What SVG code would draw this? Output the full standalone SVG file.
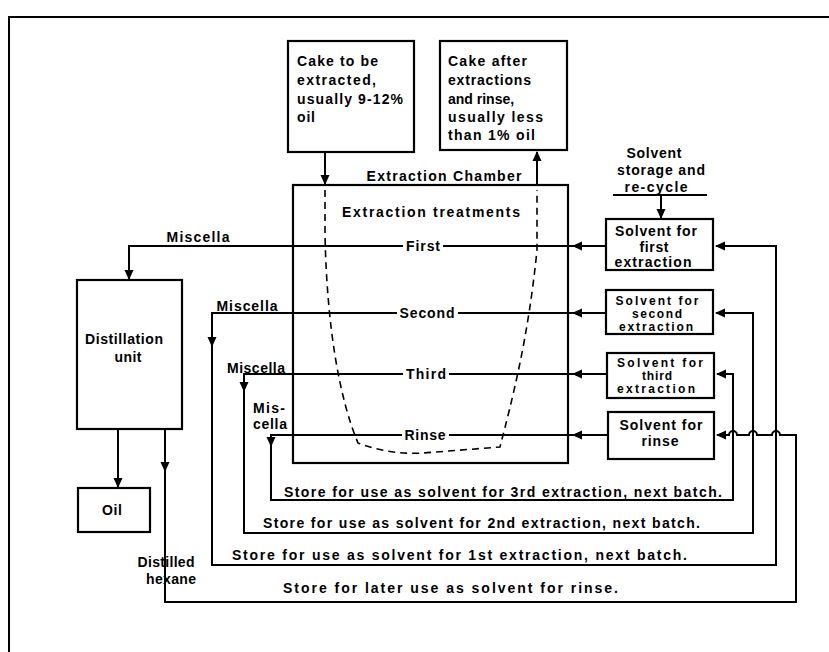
<svg xmlns="http://www.w3.org/2000/svg" width="829" height="652" viewBox="0 0 829 652">
<style>
.ln{fill:none;stroke:#000;stroke-width:2}
.bx{fill:#fff;stroke:#000;stroke-width:2.2}
.t{font-family:"Liberation Sans",Arial,sans-serif;font-size:14px;font-weight:bold;fill:#000}
.s{font-size:12px}
.m{text-anchor:middle}
.dash{fill:none;stroke:#000;stroke-width:1.6;stroke-dasharray:7,5}
</style>
<defs>
<path id="ah" d="M0,0 L-10,-4.5 L-10,4.5 Z" fill="#000"/>
</defs>
<rect width="829" height="652" fill="#fff"/>
<path class="ln" d="M9,652 V17 H829"/>

<g id="cake-in">
<rect class="bx" x="288" y="41" width="126" height="111"/>
<text class="t" x="297" y="66" textLength="81" lengthAdjust="spacing">Cake to be</text>
<text class="t" x="297" y="85" textLength="79" lengthAdjust="spacing">extracted,</text>
<text class="t" x="297" y="104" textLength="106" lengthAdjust="spacing">usually 9-12%</text>
<text class="t" x="297" y="122" textLength="18" lengthAdjust="spacing">oil</text>
</g>

<g id="cake-out">
<rect class="bx" x="440" y="41" width="127" height="109"/>
<text class="t" x="448" y="66" textLength="79" lengthAdjust="spacing">Cake after</text>
<text class="t" x="448" y="85" textLength="83" lengthAdjust="spacing">extractions</text>
<text class="t" x="448" y="104">and rinse,</text>
<text class="t" x="448" y="122" textLength="95" lengthAdjust="spacing">usually less</text>
<text class="t" x="448" y="140" textLength="87" lengthAdjust="spacing">than 1% oil</text>
</g>

<g id="chamber">
<rect class="bx" x="293" y="185" width="275" height="278"/>
<text class="t m" x="444" y="181" textLength="155" lengthAdjust="spacing">Extraction Chamber</text>
<text class="t m" x="431" y="217" textLength="178" lengthAdjust="spacing">Extraction treatments</text>
<path class="dash" d="M325,190 L325,235 C327,330 340,400 358,443 Q390,455 423,453 L500,447 C512,400 528,340 537,250 L537,190"/>
</g>

<g id="storage">
<text class="t m" x="654" y="158" textLength="55" lengthAdjust="spacing">Solvent</text>
<text class="t m" x="661" y="175" textLength="88" lengthAdjust="spacing">storage and</text>
<text class="t m" x="656" y="192" textLength="63" lengthAdjust="spacing">re-cycle</text>
<path class="ln" d="M613,195 H707"/>
</g>

<g id="solvent-first">
<rect class="bx" x="606" y="219" width="107" height="51"/>
<text class="t m" x="656" y="236" textLength="82" lengthAdjust="spacing">Solvent for</text>
<text class="t m" x="654" y="252" textLength="29" lengthAdjust="spacing">first</text>
<text class="t m" x="653" y="267" textLength="77" lengthAdjust="spacing">extraction</text>
</g>

<g id="solvent-second">
<rect class="bx" x="606" y="290" width="107" height="44"/>
<text class="t s m" x="657" y="305" textLength="83" lengthAdjust="spacing">Solvent for</text>
<text class="t s m" x="657" y="318" textLength="50" lengthAdjust="spacing">second</text>
<text class="t s m" x="656" y="331" textLength="74" lengthAdjust="spacing">extraction</text>
</g>

<g id="solvent-third">
<rect class="bx" x="607" y="353" width="107" height="45"/>
<text class="t s m" x="660" y="367" textLength="86" lengthAdjust="spacing">Solvent for</text>
<text class="t s m" x="657" y="380" textLength="30" lengthAdjust="spacing">third</text>
<text class="t s m" x="656" y="393" textLength="78" lengthAdjust="spacing">extraction</text>
</g>

<g id="solvent-rinse">
<rect class="bx" x="608" y="412" width="106" height="47"/>
<text class="t m" x="661" y="430" textLength="83" lengthAdjust="spacing">Solvent for</text>
<text class="t m" x="660" y="446" textLength="37" lengthAdjust="spacing">rinse</text>
</g>

<g id="distillation">
<rect class="bx" x="77" y="280" width="105" height="149"/>
<text class="t m" x="124" y="344" textLength="78" lengthAdjust="spacing">Distillation</text>
<text class="t m" x="128" y="362" textLength="27" lengthAdjust="spacing">unit</text>
</g>

<g id="oil">
<rect class="bx" x="78" y="488" width="72" height="44"/>
<text class="t m" x="112" y="515" textLength="20" lengthAdjust="spacing">Oil</text>
</g>

<g id="connectors">
<path class="ln" d="M325,152 V184"/>
<use href="#ah" transform="translate(325,185) rotate(90)"/>
<path class="ln" d="M537,185 V152"/>
<use href="#ah" transform="translate(537,151) rotate(-90)"/>
<path class="ln" d="M661,195 V218"/>
<use href="#ah" transform="translate(661,219) rotate(90)"/>

<path class="ln" d="M606,246 H443 M403,246 H129 V279"/>
<use href="#ah" transform="translate(572,246) rotate(180)"/>
<use href="#ah" transform="translate(129,280) rotate(90)"/>
<text class="t m" x="423" y="251" textLength="34" lengthAdjust="spacing">First</text>
<text class="t m" x="198" y="242" textLength="63" lengthAdjust="spacing">Miscella</text>

<path class="ln" d="M606,313 H458 M397,313 H212 V565 H776 V246 H716"/>
<use href="#ah" transform="translate(572,313) rotate(180)"/>
<use href="#ah" transform="translate(212,347) rotate(90)"/>
<use href="#ah" transform="translate(715,246) rotate(180)"/>
<text class="t m" x="427" y="318" textLength="55" lengthAdjust="spacing">Second</text>
<text class="t m" x="247" y="311" textLength="61" lengthAdjust="spacing">Miscella</text>

<path class="ln" d="M607,374 H449 M403,374 H244 V533 H753 V313 H716"/>
<use href="#ah" transform="translate(572,374) rotate(180)"/>
<use href="#ah" transform="translate(244,392) rotate(90)"/>
<use href="#ah" transform="translate(715,313) rotate(180)"/>
<text class="t m" x="426" y="379" textLength="40" lengthAdjust="spacing">Third</text>
<text class="t m" x="256" y="373" textLength="58" lengthAdjust="spacing">Miscella</text>

<path class="ln" d="M608,435 H449 M402,435 H271 V500 H733 V374 H717"/>
<use href="#ah" transform="translate(572,435) rotate(180)"/>
<use href="#ah" transform="translate(271,447) rotate(90)"/>
<use href="#ah" transform="translate(716,374) rotate(180)"/>
<text class="t m" x="425" y="440" textLength="41" lengthAdjust="spacing">Rinse</text>
<text class="t" x="253" y="413" textLength="32" lengthAdjust="spacing">Mis-</text>
<text class="t" x="253" y="429" textLength="34" lengthAdjust="spacing">cella</text>

<path class="ln" d="M118,429 V487"/>
<use href="#ah" transform="translate(118,488) rotate(90)"/>
<path class="ln" d="M165,429 V602 H796 V435 H780 a4,4 0 0 0 -8,0 H757 a4,4 0 0 0 -8,0 H737 a4,4 0 0 0 -8,0 H717"/>
<use href="#ah" transform="translate(165,472) rotate(90)"/>
<use href="#ah" transform="translate(716,435) rotate(180)"/>
<text class="t m" x="166" y="567" textLength="57" lengthAdjust="spacing">Distilled</text>
<text class="t m" x="171" y="584" textLength="50" lengthAdjust="spacing">hexane</text>

<text class="t" x="284" y="497" textLength="438" lengthAdjust="spacing">Store for use as solvent for 3rd extraction, next batch.</text>
<text class="t" x="263" y="528" textLength="437" lengthAdjust="spacing">Store for use as solvent for 2nd extraction, next batch.</text>
<text class="t" x="232" y="560" textLength="455" lengthAdjust="spacing">Store for use as solvent for 1st extraction, next batch.</text>
<text class="t" x="283" y="593" textLength="335" lengthAdjust="spacing">Store for later use as solvent for rinse.</text>
</g>
</svg>
